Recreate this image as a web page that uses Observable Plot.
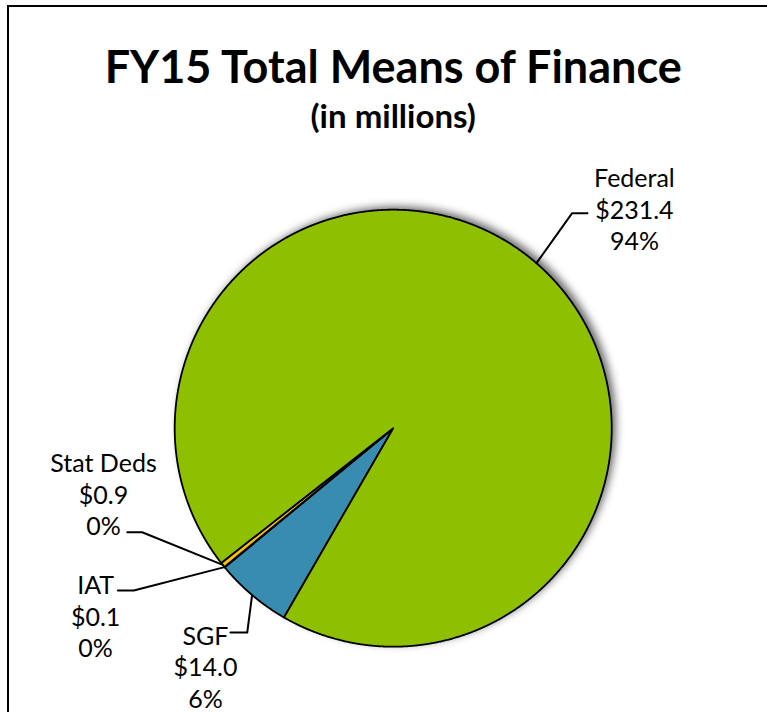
<!DOCTYPE html>
<html><head><meta charset="utf-8">
<script src="https://cdn.jsdelivr.net/npm/d3@7"></script>
<script src="https://cdn.jsdelivr.net/npm/@observablehq/plot@0.6"></script>
<style>
html,body{margin:0;padding:0;background:#fff;overflow:hidden;}
#chart{position:absolute;left:0;top:0;}
#frame{position:absolute;left:7px;top:5px;width:900px;height:900px;border-left:2.5px solid #000;border-top:2.5px solid #000;box-sizing:border-box;pointer-events:none;z-index:2;}
</style></head><body>
<div id="chart"></div>
<div id="frame"></div>
<script>
// ---- data ----
const categories = ["SGF", "IAT", "Stat Deds", "Federal"];
const values = [14.0, 0.1, 0.9, 231.4];
const valueLabels = ["$14.0", "$0.1", "$0.9", "$231.4"];
const percentLabels = ["6%", "0%", "0%", "94%"];
const colors = ["#388CB0", "#7F7F7F", "#FFC000", "#8EBF00"];
const titleText = "FY15 Total Means of Finance";
const subtitleText = "(in millions)";
const firstSliceAngle = 210; // degrees, clockwise from 12 o'clock

// label layout, in units of the pie radius relative to the centre (y up)
const labelText  = [[-0.859, -1.090], [-1.362, -0.857], [-1.326, -0.299], [1.104, 1.005]];
const labelElbow = [[-0.668, -0.935], [-1.187, -0.743], [-1.149, -0.476], [0.819, 0.984]];
const labelStub  = [[-0.745, -0.935], [-1.260, -0.743], [-1.217, -0.476], [0.889, 0.984]];

// ---- geometry via d3.pie ----
const rows = categories.map((name, i) => ({name, value: values[i], i}));
const a0 = firstSliceAngle * Math.PI / 180;
const arcs = d3.pie().sort(null).value(d => d.value).startAngle(a0).endAngle(a0 + 2 * Math.PI)(rows);

const slicePts = arcs.flatMap(a => {
  const n = Math.max(2, Math.ceil((a.endAngle - a.startAngle) / (Math.PI / 720)));
  const pts = [{name: a.data.name, x: 0, y: 0}];
  for (let k = 0; k <= n; k++) {
    const t = a.startAngle + (a.endAngle - a.startAngle) * k / n;
    pts.push({name: a.data.name, x: Math.sin(t), y: Math.cos(t)});
  }
  return pts;
});
const circlePts = d3.range(0, 721).map(k => {
  const t = k / 720 * 2 * Math.PI;
  return {x: Math.sin(t), y: Math.cos(t)};
});
const leaderPts = arcs.flatMap((a, i) => {
  const m = (a.startAngle + a.endAngle) / 2;
  return [
    {name: a.data.name, x: Math.sin(m), y: Math.cos(m)},
    {name: a.data.name, x: labelElbow[i][0], y: labelElbow[i][1]},
    {name: a.data.name, x: labelStub[i][0], y: labelStub[i][1]}
  ];
});
const labelRows = rows.map((d, i) => ({
  x: labelText[i][0], y: labelText[i][1],
  text: `${d.name}\n${valueLabels[i]}\n${percentLabels[i]}`
}));

const W = 767, H = 712, R = 218.5, CX = 392.7, CY = 427.7;

const plot = Plot.plot({
  width: W, height: H, margin: 0,
  style: {background: "transparent"},
  x: {domain: [-CX / R, (W - CX) / R], range: [0, W], axis: null},
  y: {domain: [-(H - CY) / R, CY / R], range: [H, 0], axis: null},
  color: {domain: categories, range: colors},
  marks: [
    Plot.line(circlePts, {x: "x", y: "y", fill: "#000", fillOpacity: 0.6, stroke: "none", dx: 4, dy: -3, curve: "linear-closed"}),
    Plot.line(slicePts, {x: "x", y: "y", z: "name", fill: "name", stroke: "#000", strokeWidth: 1.8, curve: "linear-closed"}),
    Plot.line(leaderPts, {x: "x", y: "y", z: "name", stroke: "#000", strokeWidth: 2}),
    Plot.text(labelRows, {x: "x", y: "y", text: "text", fontSize: 25, lineHeight: 1.26, fontFamily: "Lato", fill: "#000", lineAnchor: "middle"}),
    Plot.text([titleText], {x: () => 0, frameAnchor: "top", dy: 82, lineAnchor: "bottom", text: d => d, fontSize: 45, fontWeight: "bold", fontFamily: "Lato", fill: "#000"}),
    Plot.text([subtitleText], {x: () => 0, frameAnchor: "top", dy: 127, lineAnchor: "bottom", text: d => d, fontSize: 33, fontWeight: "bold", fontFamily: "Lato", fill: "#000"})
  ]
});
const shadow = plot.querySelectorAll('g[aria-label="line"]')[0];
if (shadow) shadow.style.filter = "blur(4px)";
document.getElementById("chart").appendChild(plot);
</script>
</body></html>
